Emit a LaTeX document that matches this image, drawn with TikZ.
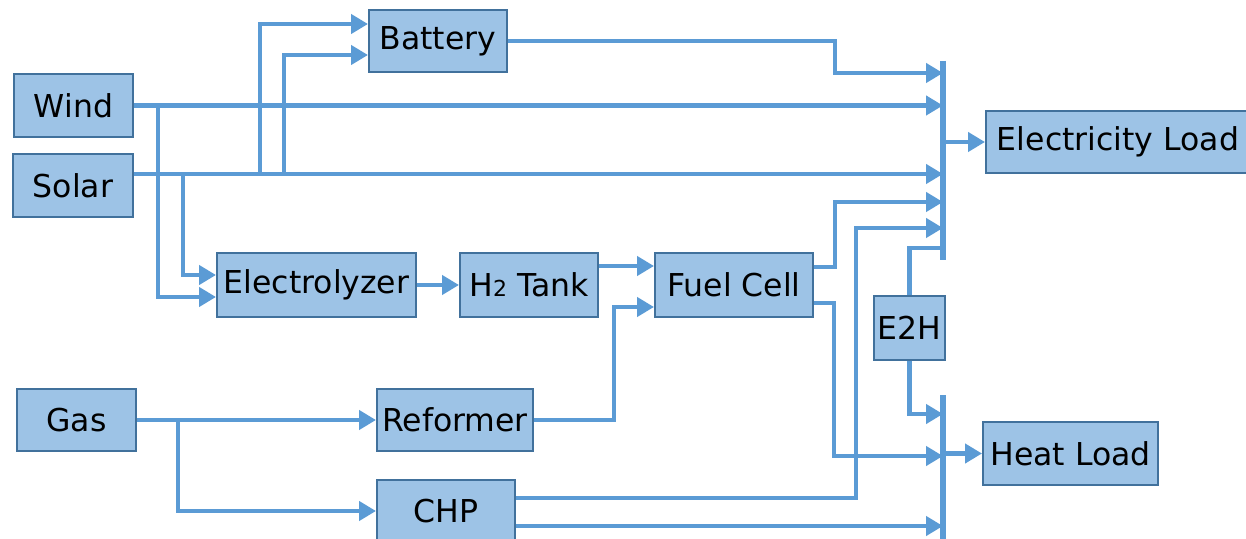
\documentclass[tikz,border=0pt]{standalone}
\usepackage{fontspec}
\setmainfont{DejaVu Sans}
\usetikzlibrary{arrows.meta}
\definecolor{linkblue}{HTML}{5B9BD5}
\definecolor{boxfill}{HTML}{9DC3E6}
\definecolor{boxline}{HTML}{41719C}

\begin{document}
\begin{tikzpicture}[
    x=0.5pt, y=-0.5pt,
    unit/.style={draw=boxline, fill=boxfill, line width=1pt, inner sep=0pt,
                 font=\fontsize{15.75}{18}\selectfont},
    flow/.style={draw=linkblue, line width=2.25pt, -{Triangle[length=8.5pt, width=9.5pt]}},
    link/.style={draw=linkblue, line width=2.25pt},
    bus/.style={draw=linkblue, line width=3pt}
]
\useasboundingbox (0,0) rectangle (1246,539);

% units
\node[unit, minimum width=59.5pt, minimum height=31.5pt] (wind) at (73.5,105.5) {Wind};
\node[unit, minimum width=60pt, minimum height=31.5pt] (solar) at (73,185.5) {Solar};
\node[unit, minimum width=69pt, minimum height=31pt] (battery) at (438,41) {Battery};
\node[unit, minimum width=99.5pt, minimum height=32pt] (elec) at (316.5,285) {Electrolyzer};
\node[unit, minimum width=69pt, minimum height=32pt] (tank) at (529,285) {H{\fontsize{11}{11}\selectfont 2} Tank};
\node[unit, minimum width=79pt, minimum height=32pt] (fc) at (734,285) {Fuel Cell};
\node[unit, minimum width=59.5pt, minimum height=31pt] (gas) at (76.5,420) {Gas};
\node[unit, minimum width=78pt, minimum height=31pt] (reformer) at (455,420) {Reformer};
\node[unit, minimum width=69pt, minimum height=31pt] (chp) at (446,511) {CHP};
\node[unit, minimum width=35.5pt, minimum height=31.5pt] (e2h) at (909.5,328) {E2H};
\node[unit, minimum width=132pt, minimum height=31pt] (eload) at (1118,142) {Electricity Load};
\node[unit, minimum width=87.5pt, minimum height=31.5pt] (hload) at (1070.5,453.5) {Heat Load};

% buses and tap points
\coordinate (ebt) at (943,61);
\coordinate (ebb) at (943,260);
\coordinate (hbt) at (943,395);
\coordinate (hbb) at (943,545);
\draw[bus] (ebt) -- (ebb);
\draw[bus] (hbt) -- (hbb);
\coordinate (e1) at (943,73);
\coordinate (e4) at (943,202);
\coordinate (e5) at (943,228);
\coordinate (e6) at (943,248);
\coordinate (h1) at (943,414);
\coordinate (h2) at (943,456);

% junctions
\coordinate (sol) at ([yshift=5.75pt]solar.east);
\coordinate (wj) at (158,105.5);
\coordinate (sj1) at (183,174);
\coordinate (sj2) at (260,174);
\coordinate (sj3) at (284,174);
\coordinate (gj) at (178,420);

% electricity side
\draw[flow] (wind.east) -- (wind.east -| ebt);
\draw[flow] (sol) -- (sol -| ebt);
\draw[flow] (sj2) |- ([yshift=8.5pt]battery.west);
\draw[flow] (sj3) |- ([yshift=-7pt]battery.west);
\draw[flow] (sj1) |- ([yshift=5pt]elec.west);
\draw[flow] (wj) |- ([yshift=-6pt]elec.west);
\draw[flow] (battery.east) -| (835,73) -- (e1);
\draw[flow] (eload.west -| ebt) -- (eload.west);

% hydrogen chain
\draw[flow] (elec.east) -- (tank.west);
\coordinate (t1) at ([yshift=9.5pt]tank.east);
\draw[flow] (t1) -- (t1 -| fc.west);
\draw[flow] (gas.east) -- (reformer.west);
\draw[flow] (gj) |- (chp.west);
\coordinate (f2) at ([yshift=-11pt]fc.west);
\draw[flow] (reformer.east) -| (614,307) -- (f2);

% outputs
\draw[flow] ([yshift=9pt]fc.east) -| (835,202) -- (e4);
\draw[flow] ([yshift=-9pt]fc.east) -| (834,456) -- (h2);
\draw[flow] ([yshift=6.5pt]chp.east) -| (856,228) -- (e5);
\coordinate (c2) at ([yshift=-7.5pt]chp.east);
\draw[flow] (c2) -- (c2 -| hbt);
\draw[link] (e6) -| (e2h.north);
\draw[flow] (e2h.south) |- (h1);
\draw[flow] (hload.west -| hbt) -- (hload.west);
\end{tikzpicture}
\end{document}
